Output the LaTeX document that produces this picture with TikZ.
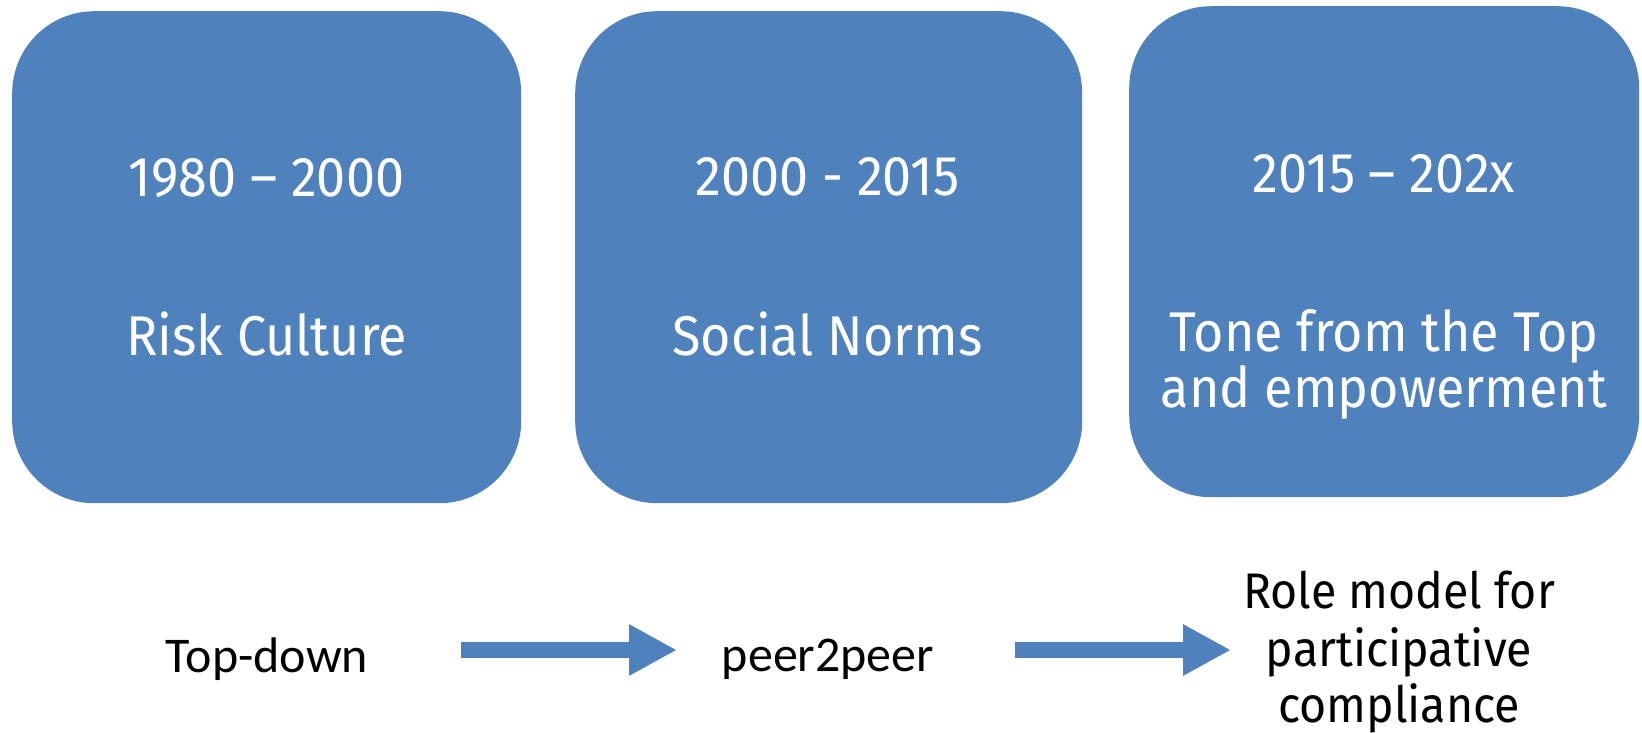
\documentclass[tikz,border=0pt]{standalone}
\usepackage{fontspec}
\setmainfont{Fira Sans}[FakeStretch=0.93]
\newfontfamily\calfont{Carlito}
\usetikzlibrary{arrows.meta}
\definecolor{boxblue}{RGB}{79,129,189}
\tikzset{
  period/.style={fill=boxblue, draw=none, rounded corners=82pt, inner sep=0pt, anchor=north west},
  boxtext/.style={text=white, anchor=base, inner sep=0pt, font=\fontsize{56}{56}\selectfont},
  lowtext/.style={text=black, anchor=base, inner sep=0pt, font=\calfont\fontsize{50}{50}\selectfont},
  roletext/.style={text=black, anchor=base, inner sep=0pt, font=\fontsize{50}{50}\selectfont},
  flow/.style={boxblue, line width=16pt, -{Triangle[length=48pt, width=48pt]}}
}
\begin{document}
\begin{tikzpicture}[x=1pt, y=-1pt]
\useasboundingbox (0,0) rectangle (1642,732);
% boxes
\node[period, minimum width=509pt, minimum height=492pt] (b1) at (12,11) {};
\node[period, minimum width=507pt, minimum height=492pt] (b2) at (575,11) {};
\node[period, minimum width=510pt, minimum height=491pt] (b3) at (1129,6) {};
% box texts
\node[boxtext] (b1y) at (266.5,196) {1980 – 2000};
\node[boxtext] (b1t) at (266.5,355) {Risk Culture};
\node[boxtext] (b2y) at (827.5,195) {2000 - 2015};
\node[boxtext] (b2t) at (827.5,355) {Social Norms};
\node[boxtext] (b3y) at (1384,192) {2015 – 202x};
\node[boxtext] (b3t) at (1384,351) {Tone from the Top};
\node[boxtext] (b3u) at (1384,407) {and empowerment};
% lower row
\node[lowtext] (td) at (267,672) {Top-down};
\node[lowtext] (pp) at (828,671) {peer2peer};
\node[roletext] (r1) at (1399,608) {Role model for};
\node[roletext] (r2) at (1399,666) {participative};
\node[roletext] (r3) at (1399,722) {compliance};
% arrows
\coordinate (a1s) at (461,650);
\coordinate (a1e) at (677,650);
\coordinate (a2s) at (1015,650);
\coordinate (a2e) at (1231,650);
\draw[flow] (a1s) -- (a1e);
\draw[flow] (a2s) -- (a2e);
\end{tikzpicture}
\end{document}
